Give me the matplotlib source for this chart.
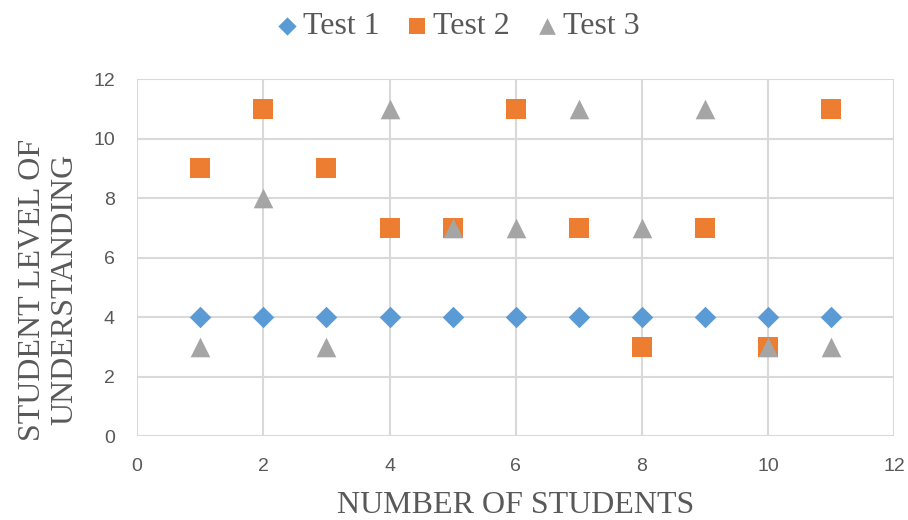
import numpy as np
import matplotlib.pyplot as plt

# data
students = [1, 2, 3, 4, 5, 6, 7, 8, 9, 10, 11]
test1 = [4, 4, 4, 4, 4, 4, 4, 4, 4, 4, 4]
test2 = [9, 11, 9, 7, 7, 11, 7, 3, 7, 3, 11]
test3 = [3, 8, 3, 11, 7, 7, 11, 7, 11, 3, 3]

fig = plt.figure(figsize=(9.08, 5.20), dpi=100)
ax = fig.add_axes([0.151, 0.1615, 0.834, 0.6865])

ax.scatter(students, test1, marker="D", s=120, color="#5B9BD5", label="Test 1", zorder=3, linewidths=0)
ax.scatter(students, test2, marker="s", s=190, color="#ED7D31", label="Test 2", zorder=3, linewidths=0)
ax.scatter(students, test3, marker="^", s=200, color="#A5A5A5", label="Test 3", zorder=3, linewidths=0)

ax.set_xlim(0, 12)
ax.set_ylim(0, 12)
ax.set_xticks(np.arange(0, 13, 2))
ax.set_yticks(np.arange(0, 13, 2))
ax.grid(True, color="#D9D9D9", linewidth=1.5)
ax.set_axisbelow(True)
for s in ax.spines.values():
    s.set_visible(False)
ax.tick_params(length=0, labelsize=14, labelcolor="#595959", pad=16)
for lab in ax.get_xticklabels() + ax.get_yticklabels():
    lab.set_family("Liberation Sans")

serif = "Liberation Serif"
ax.set_xlabel("NUMBER OF STUDENTS", fontsize=23, family=serif, color="#595959", labelpad=11)
ax.set_ylabel("STUDENT LEVEL OF\nUNDERSTANDING", fontsize=23, family=serif, color="#595959",
              linespacing=1.15)
ax.yaxis.set_label_coords(-0.076, 0.41)

leg = fig.legend(loc="upper center", bbox_to_anchor=(0.505, 1.032), ncol=3, frameon=False,
                 prop={"family": serif, "size": 23}, handlelength=0.6, handletextpad=0.2,
                 columnspacing=0.87, markerscale=0.85)
for t in leg.get_texts():
    t.set_color("#595959")

fig.savefig("out.png", dpi=100)
